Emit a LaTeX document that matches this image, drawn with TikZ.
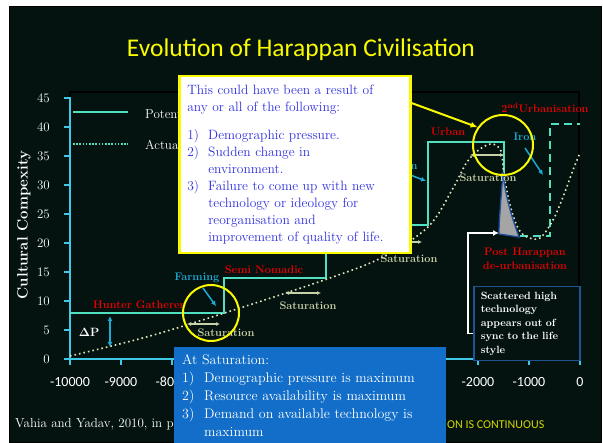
\documentclass[tikz,border=0pt]{standalone}
\usepackage[no-math]{fontspec}
\newfontfamily\calibri{Carlito}
\usepackage{tikz}
\usetikzlibrary{positioning,arrows.meta}
\definecolor{slidebg}{RGB}{4,19,16}
\definecolor{potcolor}{RGB}{80,224,192}
\definecolor{actcolor}{RGB}{228,228,190}
\definecolor{axiscolor}{RGB}{64,200,230}
\definecolor{redlbl}{RGB}{232,0,0}
\definecolor{cyanlbl}{RGB}{30,172,214}
\definecolor{satcolor}{RGB}{200,210,168}
\definecolor{reasonblue}{RGB}{48,48,225}
\definecolor{ringyellow}{RGB}{250,250,0}
\definecolor{satblue}{RGB}{18,110,200}
\definecolor{scatblue}{RGB}{30,84,150}
\definecolor{spikegray}{RGB}{165,165,165}
\definecolor{spikeblue}{RGB}{32,80,160}
\definecolor{noteyellow}{RGB}{215,215,0}

\begin{document}
\begin{tikzpicture}[x=1pt,y=-1pt,%
%    node distance = 2 cm,auto,
    potential/.style = {draw=potcolor, line width=2pt},
    actual/.style    = {draw=actcolor, line width=1.6pt, dash pattern=on 1.6pt off 3pt},
    axisline/.style  = {draw=axiscolor, line width=2pt},
    stage/.style     = {text=redlbl, font=\fontsize{11}{14}\selectfont\bfseries, inner sep=0pt, align=center},
    tech/.style      = {text=cyanlbl, font=\fontsize{11}{14}\selectfont\bfseries, inner sep=0pt},
    satlbl/.style    = {text=satcolor, font=\fontsize{11}{14}\selectfont\bfseries, inner sep=0pt},
    satarrow/.style  = {draw=satcolor, line width=1.5pt, {Latex[length=4pt,width=4pt]}-{Latex[length=4pt,width=4pt]}},
    techarrow/.style = {draw=cyanlbl, line width=1.5pt, -{Latex[length=5pt,width=5pt]}},
    ring/.style      = {draw=ringyellow, line width=2pt, circle, inner sep=0pt},
    reasonbox/.style = {draw=ringyellow, fill=white, line width=2.5pt, text=reasonblue, align=left, text width=215pt, inner xsep=8pt, minimum height=177pt, font=\fontsize{13.5}{17}\selectfont},
    satbox/.style    = {fill=satblue, text=white, align=left, text width=256pt, inner xsep=8pt, minimum height=96pt, font=\fontsize{14}{18}\selectfont},
    scatbox/.style   = {draw=scatblue, fill=slidebg, line width=1.5pt, text=white, align=left, text width=92pt, inner xsep=7pt, minimum width=106pt, minimum height=74pt, font=\fontsize{10.5}{13.5}\selectfont\bfseries},
    ticklbl/.style   = {text=white, font=\fontsize{13}{15}\selectfont, inner sep=0pt}]

  \useasboundingbox (0,0) rectangle (603,443);
  \fill[white] (0,0) rectangle (603,443);
  \draw[black, fill=slidebg, line width=1pt] (9,7) rectangle (601,443);
  \draw (301,50) node[text=ringyellow, font=\calibri\fontsize{25.5}{29}\selectfont] (title) {Evolution of Harappan Civilisation};

  % axes
  \draw[black, line width=1.5pt] (70,92) rectangle (579,359);
  \draw[axisline] (70,97) -- (70,359) -- (581,359);
  \foreach \v in {0,5,...,45} {
    \draw[axisline] (64,{359-5.8*\v}) -- (70,{359-5.8*\v});
    \draw (50,{359-5.8*\v}) node[ticklbl, anchor=east] {\oldstylenums{\v}};
  }
  \foreach \v in {-10000,-9000,...,0}
    \draw[axisline] ({70+0.051*(\v+10000)},359) -- ({70+0.051*(\v+10000)},365);
  \foreach \v in {-10000,-9000,-8000,-2000,-1000,0}
    \draw ({70+0.051*(\v+10000)},382) node[ticklbl, font=\calibri\fontsize{14}{16}\selectfont] {\v};
  \draw (24,225) node[rotate=90, text=white, font=\fontsize{15}{17}\selectfont\bfseries] (ylabel) {Cultural Compexity};

  % legend
  \draw[potential] (73,112) -- (128,112);
  \draw[potential, line width=1.6pt, dash pattern=on 1.6pt off 1.6pt] (73,144) -- (128,144);
  \draw (145,114) node[ticklbl, anchor=west] (legpot) {Potential};
  \draw (145,145) node[ticklbl, anchor=west] (legact) {Actual};

  % potential and actual
  \draw[potential] (70,313) -- (224,313) -- (224,278) -- (326,278) -- (326,225) -- (428,225) -- (428,142) -- (504,142) -- (504,173);
  \draw[potential, dash pattern=on 8pt off 5pt] (520,236) -- (550,236) -- (550,124) -- (580,124);
  \draw[actual] plot[smooth, tension=0.55] coordinates {(70,356) (150,336) (240,308) (330,278) (383,257) (428,227) (452,190) (467,162) (480,149) (492,144) (501,151) (504,175) (510,205) (518,228) (527,237) (540,238) (553,220) (563,197) (573,170) (580,153)};
  \filldraw[fill=spikegray, draw=spikeblue, line width=1.3pt] (503,172) .. controls (501,200) and (499,220) .. (499,234) -- (519,237) .. controls (511,215) and (505,195) .. (503,172);
  \coordinate (spikefoot) at (499,233);

  % stages
  \draw (139,305) node[stage] (hunter) {Hunter Gatherer};
  \draw (264,270) node[stage] (nomadic) {Semi Nomadic};
  \draw (448,132) node[stage] (urban) {Urban};
  \draw (545,108) node[stage] (urban2) {2\textsuperscript{nd}Urbanisation};
  \draw (525,259) node[stage] (deurban) {Post Harappan\\de-urbanisation};
  \draw (197,278) node[tech] (farming) {Farming};
  \draw (525,137) node[tech] (iron) {Iron};
  \draw (414,167) node[tech] (techn) {n};
  \draw[techarrow] ([xshift=6pt,yshift=-5pt]farming.south) -- ++(13,18);
  \draw[techarrow] ([yshift=-7pt]iron.south) -- ++(18,27);
  \draw[techarrow] (400,171) -- (426,181);
  \foreach \tx/\ty/\ax/\bx/\ay [count=\i] in {226/333/187/220/324, 308/306/285/321/293, 409/259/388/422/242, 488/178/470/504/155} {
    \draw (\tx,\ty) node[satlbl] (sat\i) {Saturation};
    \draw[satarrow] (\ax,\ay) -- (\bx,\ay);
  }
  \draw (89,332) node[text=white, font=\fontsize{12}{14}\selectfont\bfseries] (dp) {$\mathbf{\Delta}$P};
  \draw[techarrow, {Latex[length=5pt,width=5pt]}-{Latex[length=5pt,width=5pt]}] (110,316) -- (110,347);

  \draw (211,313) node[ring, minimum size=56pt] (ring1) {};
  \draw (503,145) node[ring, minimum size=60pt] (ring2) {};

  % boxes
  \draw (178,75) node[reasonbox, anchor=north west] (reason) {This could have been  a result of\\ any or all of the following:\\[11pt]
    \makebox[21pt][l]{1)}Demographic pressure.\\
    \makebox[21pt][l]{2)}Sudden change in\\ \hspace*{21pt}environment.\\
    \makebox[21pt][l]{3)}Failure to come up with new\\ \hspace*{21pt}technology or ideology for\\ \hspace*{21pt}reorganisation and\\ \hspace*{21pt}improvement  of quality of life.};
  \draw[ringyellow, line width=2pt, -{Latex[length=7pt,width=6pt]}] ([yshift=-28pt]reason.north east) -- (ring2.145);

  \draw (174,347) node[satbox, anchor=north west] (atsat) {At Saturation:\\
    \makebox[22pt][l]{1)}Demographic pressure is maximum\\
    \makebox[22pt][l]{2)}Resource availability  is maximum\\
    \makebox[22pt][l]{3)}Demand  on available technology  is\\ \hspace*{22pt}maximum};

  \draw (473,286) node[scatbox, anchor=north west] (scatter) {Scattered high\\technology\\appears out of\\sync to the life\\style};
  \draw[white, line width=1.5pt, -{Latex[length=6pt,width=6pt]}] ([yshift=-10pt]scatter.west) -- ++(-5,0) |- (spikefoot);

  \draw (15,424) node[ticklbl, anchor=west] (source) {Vahia and Yadav,  \oldstylenums{2010}, in p};
  \draw (447,425) node[anchor=west, inner sep=0pt, text=noteyellow, font=\calibri\fontsize{12}{14}\selectfont] (note) {ON IS CONTINUOUS};
\end{tikzpicture}
\end{document}
